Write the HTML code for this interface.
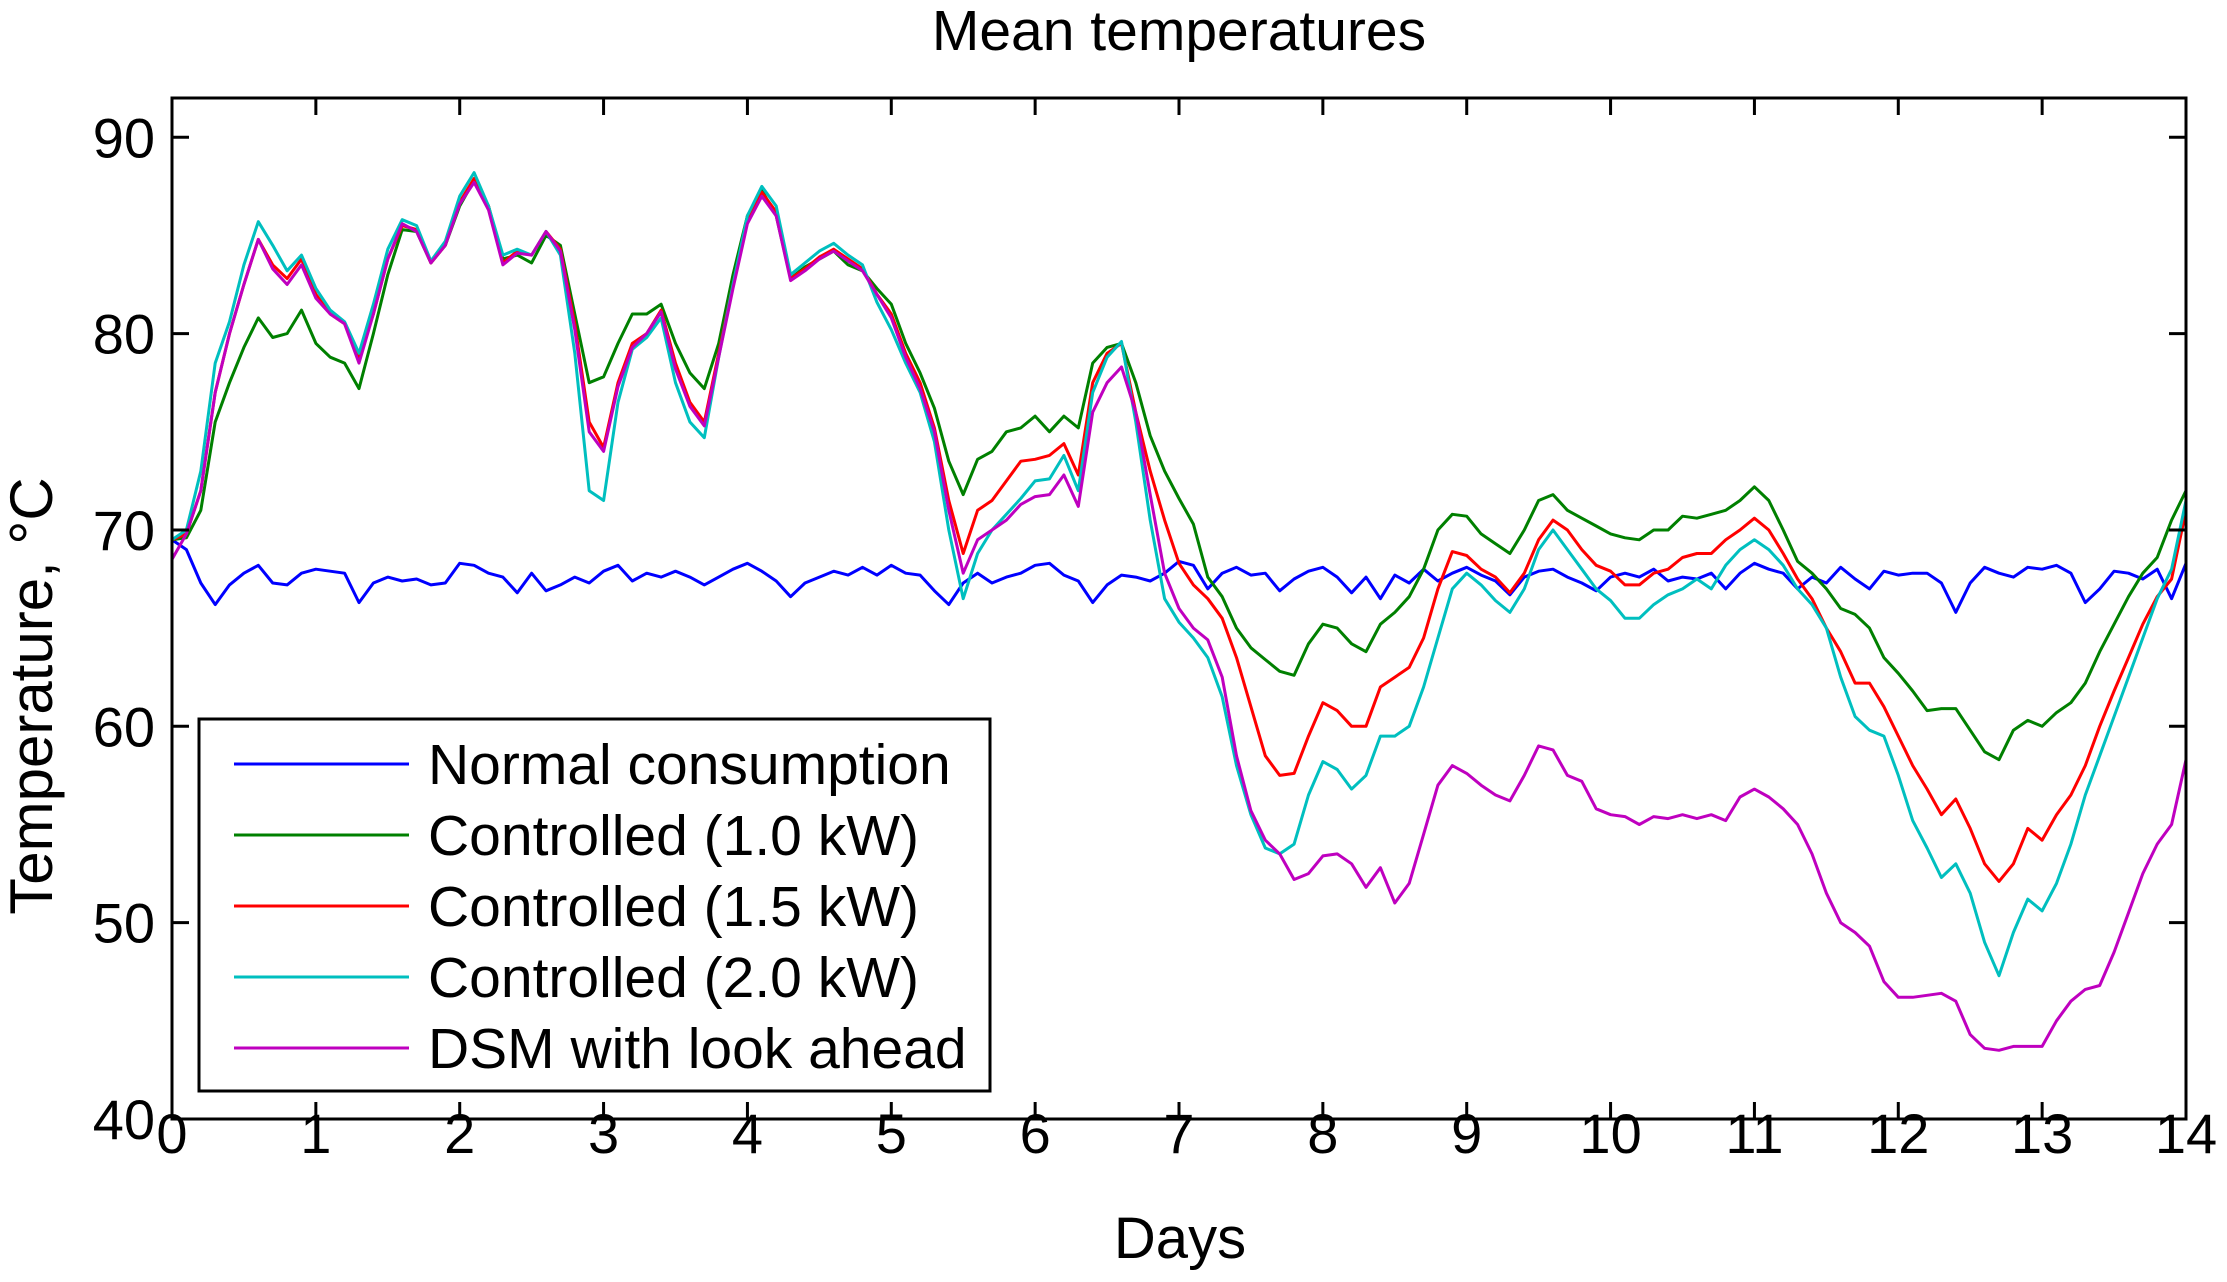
<!DOCTYPE html>
<html><head><meta charset="utf-8"><style>
html,body{margin:0;padding:0;background:#fff;}
svg{display:block;font-family:"Liberation Sans",Arial,sans-serif;}
</style></head><body>
<svg id="chart" width="2227" height="1282" viewBox="0 0 2227 1282" xmlns="http://www.w3.org/2000/svg">
<rect x="0" y="0" width="2227" height="1282" fill="#fff"/>
<text x="1179" y="50" font-size="57" text-anchor="middle">Mean temperatures</text>
<text x="1180" y="1258" font-size="58" text-anchor="middle">Days</text>
<text transform="translate(52,696) rotate(-90)" font-size="60" text-anchor="middle">Temperature, °C</text>
<g id="series"></g>
<g id="axes"></g>
<g id="legend"></g>
</svg>
<script>
const xTicks=[0,1,2,3,4,5,6,7,8,9,10,11,12,13,14];
const yTicks=[40,50,60,70,80,90];
const seriesNames=["Normal consumption","Controlled (1.0 kW)","Controlled (1.5 kW)","Controlled (2.0 kW)","DSM with look ahead"];
const seriesColors=["#0000ff","#008000","#ff0000","#00bfbf","#bf00bf"];
const step=0.1;
const normal=[69.5,69.0,67.3,66.2,67.2,67.8,68.2,67.3,67.2,67.8,68.0,67.9,67.8,66.3,67.3,67.6,67.4,67.5,67.2,67.3,68.3,68.2,67.8,67.6,66.8,67.8,66.9,67.2,67.6,67.3,67.9,68.2,67.4,67.8,67.6,67.9,67.6,67.2,67.6,68.0,68.3,67.9,67.4,66.6,67.3,67.6,67.9,67.7,68.1,67.7,68.2,67.8,67.7,66.9,66.2,67.3,67.8,67.3,67.6,67.8,68.2,68.3,67.7,67.4,66.3,67.2,67.7,67.6,67.4,67.8,68.4,68.2,67.0,67.8,68.1,67.7,67.8,66.9,67.5,67.9,68.1,67.6,66.8,67.6,66.5,67.7,67.3,68.0,67.4,67.8,68.1,67.7,67.4,66.7,67.6,67.9,68.0,67.6,67.3,66.9,67.6,67.8,67.6,68.0,67.4,67.6,67.5,67.8,67.0,67.8,68.3,68.0,67.8,67.0,67.6,67.3,68.1,67.5,67.0,67.9,67.7,67.8,67.8,67.3,65.8,67.3,68.1,67.8,67.6,68.1,68.0,68.2,67.8,66.3,67.0,67.9,67.8,67.5,68.0,66.5,68.3];
const ctrl10=[69.5,69.6,71,75.5,77.5,79.3,80.8,79.8,80.0,81.2,79.5,78.8,78.5,77.2,80,83,85.3,85.2,83.6,84.5,86.5,87.8,86.5,83.8,84.0,83.6,85.0,84.5,81,77.5,77.8,79.5,81,81,81.5,79.5,78,77.2,79.5,83,86.0,87.3,86.0,82.8,83.4,83.8,84.2,83.5,83.2,82.3,81.5,79.5,78,76.2,73.5,71.8,73.6,74.0,75.0,75.2,75.8,75.0,75.8,75.2,78.5,79.3,79.5,77.5,74.8,73,71.6,70.3,67.6,66.6,65.0,64.0,63.4,62.8,62.6,64.2,65.2,65.0,64.2,63.8,65.2,65.8,66.6,68.0,70.0,70.8,70.7,69.8,69.3,68.8,70.0,71.5,71.8,71.0,70.6,70.2,69.8,69.6,69.5,70.0,70.0,70.7,70.6,70.8,71.0,71.5,72.2,71.5,70.0,68.4,67.8,67.0,66.0,65.7,65.0,63.5,62.7,61.8,60.8,60.9,60.9,59.8,58.7,58.3,59.8,60.3,60.0,60.7,61.2,62.2,63.8,65.2,66.6,67.8,68.6,70.5,72.0];
const ctrl15=[69.5,69.8,72,77,80,82.5,84.8,83.5,82.8,83.8,82,81,80.5,78.8,81,83.8,85.5,85.3,83.6,84.5,86.7,87.9,86.5,83.6,84.2,84.0,85.2,84.3,80.5,75.5,74.2,77.5,79.5,80.0,81.2,78.5,76.5,75.5,79,82.5,85.8,87.2,86.2,82.8,83.3,83.9,84.3,83.8,83.3,82.0,81.0,79.0,77.5,75.2,71.5,68.8,71.0,71.5,72.5,73.5,73.6,73.8,74.4,72.8,77.5,79.0,79.5,76.0,73.0,70.5,68.3,67.2,66.5,65.5,63.5,61.0,58.5,57.5,57.6,59.5,61.2,60.8,60.0,60.0,62.0,62.5,63.0,64.5,67.0,68.9,68.7,68.0,67.6,66.8,67.8,69.5,70.5,70.0,69.0,68.2,67.9,67.2,67.2,67.8,68.0,68.6,68.8,68.8,69.5,70.0,70.6,70.0,68.8,67.5,66.5,65.0,63.8,62.2,62.2,61.0,59.5,58.0,56.8,55.5,56.3,54.8,53.0,52.1,53.0,54.8,54.2,55.5,56.5,58.0,60.0,61.8,63.5,65.2,66.6,67.5,71.0];
const ctrl20=[69.5,70,73,78.5,80.6,83.5,85.7,84.5,83.2,84.0,82.3,81.2,80.6,79.0,81.5,84.3,85.8,85.5,83.7,84.7,87.0,88.2,86.5,84.0,84.3,84.0,85.2,84.0,79.0,72.0,71.5,76.5,79.2,79.8,80.8,77.5,75.5,74.7,78.8,82.5,86.0,87.5,86.5,83.0,83.6,84.2,84.6,84.0,83.5,81.6,80.2,78.5,77.0,74.5,70.0,66.5,68.8,70.0,70.8,71.6,72.5,72.6,73.8,72.0,77.0,78.8,79.6,75.5,70.5,66.5,65.3,64.5,63.5,61.5,58.0,55.5,53.8,53.5,54.0,56.5,58.2,57.8,56.8,57.5,59.5,59.5,60.0,62.0,64.5,67.0,67.8,67.2,66.4,65.8,67.0,69.0,70.0,69.0,68.0,67.0,66.4,65.5,65.5,66.2,66.7,67.0,67.5,67.0,68.2,69.0,69.5,69.0,68.2,67.0,66.2,65.0,62.5,60.5,59.8,59.5,57.5,55.2,53.8,52.3,53.0,51.5,49.0,47.3,49.5,51.2,50.6,52.0,54.0,56.5,58.5,60.5,62.5,64.5,66.5,68.0,71.5];
const dsm=[68.5,69.8,72,77,80,82.5,84.8,83.3,82.5,83.5,81.8,81,80.5,78.5,81,83.8,85.6,85.2,83.6,84.5,86.6,87.7,86.3,83.5,84.1,84.0,85.2,84.2,80.2,75.0,74.0,77.3,79.3,80.0,81.1,78.2,76.3,75.3,78.8,82.3,85.6,87.0,86.0,82.7,83.2,83.8,84.2,83.7,83.2,82.0,80.8,78.8,77.2,75.0,71.0,67.8,69.5,70.0,70.5,71.3,71.7,71.8,72.8,71.2,76.0,77.5,78.3,76.0,71.8,67.8,66.0,65.0,64.4,62.5,58.5,55.7,54.2,53.5,52.2,52.5,53.4,53.5,53.0,51.8,52.8,51.0,52.0,54.5,57.0,58.0,57.6,57.0,56.5,56.2,57.5,59.0,58.8,57.5,57.2,55.8,55.5,55.4,55.0,55.4,55.3,55.5,55.3,55.5,55.2,56.4,56.8,56.4,55.8,55.0,53.5,51.5,50.0,49.5,48.8,47.0,46.2,46.2,46.3,46.4,46.0,44.3,43.6,43.5,43.7,43.7,43.7,45.0,46.0,46.6,46.8,48.5,50.5,52.5,54.0,55.0,58.3];
const allSeries=[normal,ctrl10,ctrl15,ctrl20,dsm];

const L=172,R=2186,T=98,B=1119,xMin=0,xMax=14,yMin=40,yMax=92;
const xs=d=>L+(d-xMin)/(xMax-xMin)*(R-L);
const ys=v=>B-(v-yMin)/(yMax-yMin)*(B-T);
const NS="http://www.w3.org/2000/svg";
function mk(tag,attrs,parent){const e=document.createElementNS(NS,tag);for(const k in attrs)e.setAttribute(k,attrs[k]);parent.appendChild(e);return e;}

const sg=document.getElementById('series');
[0,1,2,3,4].forEach(i=>{
  const pts=allSeries[i].map((v,j)=>xs(j*step).toFixed(1)+","+ys(v).toFixed(1)).join(" ");
  const p=mk('polyline',{points:pts,fill:"none",stroke:seriesColors[i],"stroke-width":3,"stroke-linejoin":"round"},sg);
  
  
});

const ax=document.getElementById('axes');
const fr=mk('rect',{x:L,y:T,width:R-L,height:B-T,fill:"none",stroke:"#000","stroke-width":3},ax);


xTicks.forEach(t=>{
  const x=xs(t);
  mk('line',{x1:x,y1:B,x2:x,y2:B-17,stroke:"#000","stroke-width":3},ax);
  mk('line',{x1:x,y1:T,x2:x,y2:T+17,stroke:"#000","stroke-width":3},ax);
  const tx=mk('text',{x:x,y:1153,"font-size":56,"text-anchor":"middle"},ax);
  tx.textContent=t;
  
  
});
yTicks.forEach(t=>{
  const y=ys(t);
  mk('line',{x1:L,y1:y,x2:L+17,y2:y,stroke:"#000","stroke-width":3},ax);
  mk('line',{x1:R,y1:y,x2:R-17,y2:y,stroke:"#000","stroke-width":3},ax);
  const tx=mk('text',{x:155,y:y+20,"font-size":56,"text-anchor":"end"},ax);
  tx.textContent=t;
  
  
});

const lg=document.getElementById('legend');
const box=mk('rect',{x:199,y:719,width:791,height:372,fill:"#fff",stroke:"#000","stroke-width":3},lg);


seriesNames.forEach((n,i)=>{
  const y=764+i*71;
  const ln=mk('line',{x1:234,y1:y,x2:409,y2:y,stroke:seriesColors[i],"stroke-width":3},lg);
  
  
  const tx=mk('text',{x:428,y:y+20,"font-size":57},lg);
  tx.textContent=n;
  
  
});
</script>
</body></html>
